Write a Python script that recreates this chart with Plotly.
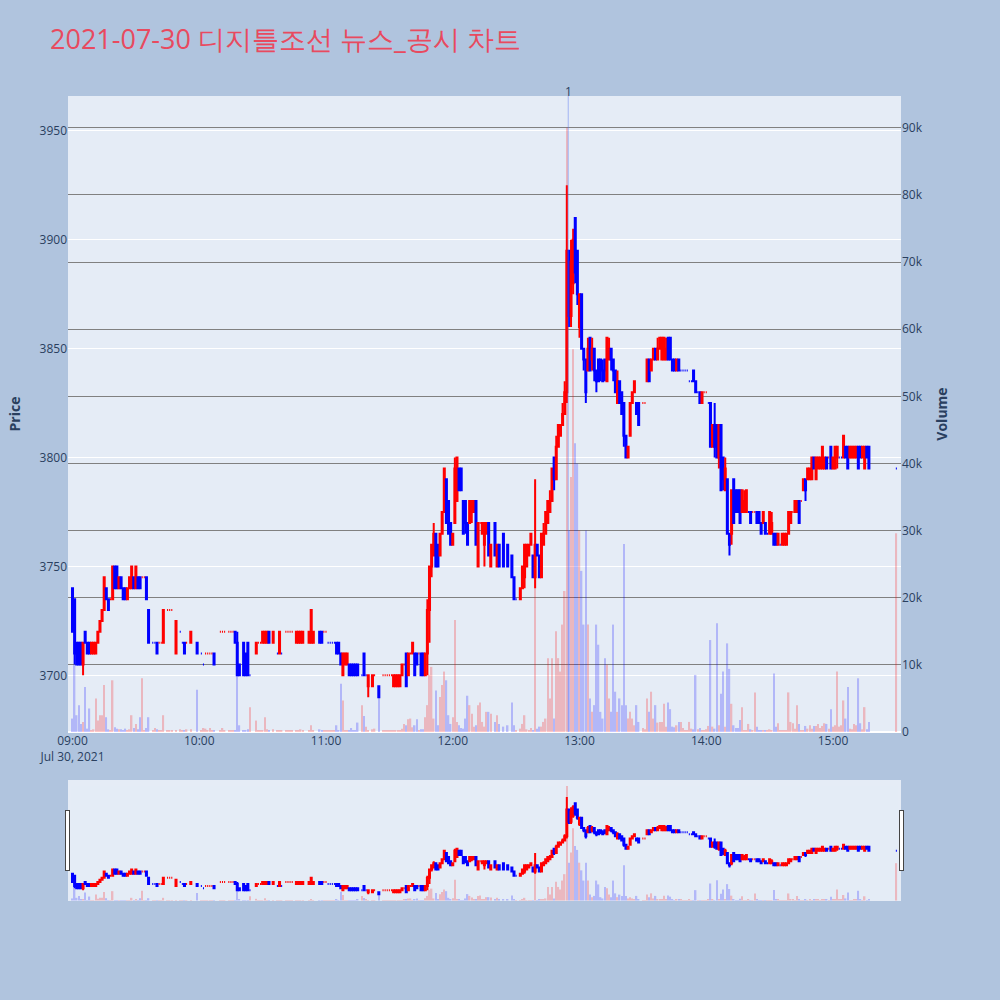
import plotly.graph_objects as go

DATE = "2021-07-30"
TITLE = "2021-07-30 디지틀조선 뉴스_공시 차트"
NEWS_TIME = "12:54:40"
NEWS_LABEL = "1"
X_RANGE = ["2021-07-30 08:57:52", "2021-07-30 15:32:12"]

# ---------------- 09:xx ----------------
t09 = ["09:00", "09:01", "09:02", "09:03", "09:04", "09:05", "09:06", "09:07", "09:08", "09:09",
       "09:10", "09:11", "09:12", "09:13", "09:14", "09:15", "09:16", "09:17", "09:18", "09:19",
       "09:20", "09:21", "09:22", "09:23", "09:24", "09:25", "09:26", "09:27", "09:28", "09:29",
       "09:30", "09:31", "09:32", "09:33", "09:34", "09:35", "09:36",
       "09:38", "09:39", "09:40", "09:41", "09:42", "09:43", "09:45", "09:46", "09:47", "09:49",
       "09:51", "09:52", "09:53", "09:54", "09:56", "09:59"]
o09 = [3740, 3735, 3715, 3715, 3715, 3705, 3720, 3715, 3715, 3710,
       3710, 3710, 3715, 3720, 3725, 3730, 3740, 3735, 3735, 3735,
       3750, 3750, 3740, 3745, 3740, 3740, 3735, 3740, 3740, 3745,
       3740, 3745, 3745, 3745, 3745, 3745, 3730,
       3715, 3715, 3715, 3715, 3715, 3715, 3730, 3730, 3730, 3710,
       3720, 3715, 3715, 3715, 3715, 3715]
h09 = [3740, 3735, 3715, 3715, 3715, 3715, 3720, 3715, 3715, 3715,
       3715, 3715, 3720, 3725, 3730, 3745, 3740, 3735, 3735, 3750,
       3750, 3750, 3745, 3745, 3740, 3740, 3740, 3745, 3750, 3745,
       3750, 3745, 3745, 3745, 3745, 3745, 3730,
       3715, 3715, 3715, 3715, 3715, 3730, 3730, 3730, 3730, 3725,
       3720, 3715, 3715, 3715, 3720, 3715]
l09 = [3720, 3705, 3705, 3705, 3705, 3700, 3715, 3710, 3710, 3710,
       3710, 3710, 3715, 3720, 3725, 3730, 3735, 3730, 3735, 3735,
       3740, 3740, 3740, 3740, 3735, 3735, 3735, 3740, 3740, 3740,
       3740, 3740, 3740, 3745, 3745, 3735, 3715,
       3715, 3715, 3710, 3715, 3715, 3715, 3730, 3730, 3730, 3710,
       3720, 3715, 3710, 3715, 3715, 3710]
c09 = [3720, 3710, 3705, 3705, 3705, 3715, 3715, 3710, 3710, 3715,
       3715, 3715, 3720, 3725, 3730, 3745, 3735, 3730, 3735, 3750,
       3740, 3740, 3745, 3740, 3735, 3735, 3740, 3745, 3750, 3740,
       3750, 3740, 3740, 3745, 3745, 3735, 3715,
       3715, 3715, 3710, 3715, 3715, 3730, 3730, 3730, 3730, 3725,
       3720, 3715, 3710, 3715, 3720, 3710]
v09 = [2000, 10000, 2500, 4000, 1200, 1500, 6700, 500, 3500, 300,
       400, 5000, 1700, 2500, 2500, 7000, 2200, 400, 300, 7700,
       700, 500, 400, 400, 300, 500, 300, 400, 2500, 600,
       1200, 400, 2200, 8000, 300, 600, 2200,
       300, 600, 400, 300, 200, 2500, 200, 300, 200, 300,
       400, 300, 300, 400, 400, 6300]

# ---------------- 10:xx ----------------
t10 = ["10:01", "10:02", "10:03", "10:04", "10:05", "10:06", "10:07",
       "10:10", "10:11", "10:12", "10:14", "10:15", "10:16", "10:17", "10:18", "10:19",
       "10:21", "10:22", "10:23", "10:24",
       "10:27", "10:28", "10:29", "10:30", "10:31", "10:32", "10:33",
       "10:35", "10:37", "10:38", "10:39",
       "10:41", "10:42", "10:43", "10:44",
       "10:46", "10:47", "10:48", "10:49",
       "10:52", "10:53", "10:54", "10:57", "10:58", "10:59"]
o10 = [3710, 3705, 3710, 3710, 3710, 3710, 3710,
       3720, 3720, 3720, 3720, 3720, 3720, 3720, 3715, 3705,
       3715, 3710, 3715, 3700,
       3710, 3715, 3715, 3715, 3715, 3715, 3720,
       3715, 3710, 3710, 3710,
       3720, 3720, 3720, 3720,
       3715, 3715, 3715, 3715,
       3715, 3715, 3715, 3720, 3720, 3720]
h10 = [3710, 3705, 3710, 3710, 3710, 3710, 3710,
       3720, 3720, 3720, 3720, 3720, 3720, 3720, 3720, 3705,
       3715, 3710, 3715, 3700,
       3715, 3715, 3715, 3720, 3720, 3720, 3720,
       3720, 3710, 3720, 3710,
       3720, 3720, 3720, 3720,
       3720, 3720, 3720, 3720,
       3720, 3730, 3720, 3720, 3720, 3720]
l10 = [3710, 3705, 3710, 3710, 3710, 3710, 3705,
       3720, 3720, 3720, 3720, 3720, 3720, 3715, 3700, 3700,
       3700, 3700, 3700, 3700,
       3710, 3715, 3715, 3715, 3715, 3715, 3715,
       3715, 3710, 3710, 3710,
       3720, 3720, 3720, 3720,
       3715, 3715, 3715, 3715,
       3715, 3715, 3715, 3715, 3715, 3720]
c10 = [3710, 3705, 3710, 3710, 3710, 3710, 3705,
       3720, 3720, 3720, 3720, 3720, 3720, 3715, 3700, 3700,
       3700, 3700, 3700, 3700,
       3715, 3715, 3715, 3720, 3720, 3720, 3715,
       3720, 3710, 3720, 3710,
       3720, 3720, 3720, 3720,
       3720, 3720, 3720, 3720,
       3720, 3730, 3720, 3715, 3715, 3720]
v10 = [300, 600, 500, 200, 600, 200, 300,
       300, 600, 200, 200, 200, 300, 300, 9000, 1000,
       300, 300, 400, 3700,
       1700, 300, 200, 300, 2200, 400, 300,
       400, 300, 300, 200,
       300, 200, 200, 300,
       300, 200, 400, 200,
       300, 1000, 300, 400, 200, 200]

# ---------------- 11:xx ----------------
t11 = ["11:00", "11:01", "11:02", "11:03", "11:04", "11:05", "11:06", "11:07", "11:08", "11:09",
       "11:10", "11:11", "11:12", "11:13", "11:14", "11:15",
       "11:17", "11:18", "11:19", "11:20",
       "11:22", "11:23", "11:25",
       "11:27", "11:28", "11:29", "11:30", "11:31", "11:32", "11:33", "11:34", "11:35", "11:36",
       "11:37", "11:38", "11:39", "11:40", "11:41", "11:42", "11:43", "11:44", "11:45", "11:46",
       "11:47", "11:48", "11:49", "11:50", "11:51", "11:52", "11:53", "11:54", "11:55", "11:56",
       "11:57", "11:58", "11:59"]
o11 = [3720, 3715, 3715, 3715, 3715, 3715, 3715, 3710, 3700, 3705,
       3705, 3705, 3705, 3705, 3705, 3705,
       3700, 3710, 3700, 3695,
       3695, 3700, 3695,
       3700, 3700, 3700, 3700, 3700, 3695, 3695, 3695, 3695, 3700,
       3705, 3710, 3700, 3710, 3710, 3710, 3710, 3710, 3710, 3710,
       3700, 3710, 3730, 3750, 3755, 3765, 3760, 3755, 3765, 3775,
       3790, 3780, 3770]
h11 = [3720, 3715, 3715, 3715, 3715, 3715, 3715, 3710, 3710, 3710,
       3710, 3705, 3705, 3705, 3705, 3705,
       3700, 3710, 3700, 3700,
       3700, 3700, 3695,
       3700, 3700, 3700, 3700, 3700, 3700, 3700, 3700, 3700, 3705,
       3705, 3710, 3710, 3710, 3715, 3710, 3710, 3710, 3710, 3710,
       3710, 3735, 3750, 3760, 3770, 3765, 3760, 3765, 3775, 3795,
       3790, 3780, 3770]
l11 = [3720, 3715, 3715, 3715, 3715, 3710, 3710, 3705, 3700, 3705,
       3705, 3700, 3700, 3700, 3700, 3700,
       3700, 3700, 3700, 3690,
       3695, 3700, 3690,
       3700, 3700, 3700, 3700, 3700, 3695, 3695, 3695, 3695, 3700,
       3705, 3695, 3700, 3710, 3710, 3700, 3705, 3710, 3700, 3700,
       3700, 3700, 3715, 3745, 3755, 3750, 3750, 3755, 3765, 3775,
       3770, 3765, 3760]
c11 = [3720, 3715, 3715, 3715, 3715, 3710, 3710, 3705, 3710, 3710,
       3710, 3700, 3700, 3700, 3700, 3700,
       3700, 3700, 3700, 3700,
       3700, 3700, 3690,
       3700, 3700, 3700, 3700, 3700, 3700, 3700, 3700, 3700, 3705,
       3705, 3695, 3710, 3710, 3715, 3700, 3705, 3710, 3700, 3700,
       3710, 3730, 3750, 3760, 3765, 3750, 3750, 3765, 3775, 3795,
       3770, 3765, 3760]
v11 = [200, 200, 300, 200, 200, 1000, 300, 7200, 4700, 300,
       300, 300, 600, 300, 300, 1400,
       4000, 2400, 800, 300,
       400, 500, 6300,
       200, 200, 300, 200, 200, 300, 200, 300, 200, 500,
       1200, 1000, 1900, 2000, 700, 1000, 1900, 300, 400, 400,
       2200, 4000, 8500, 9700, 2000, 6200, 1000, 5200, 7000, 9000,
       7700, 2500, 1200]

# ---------------- 12:xx ----------------
t12 = ["12:00", "12:01", "12:02", "12:03", "12:04", "12:05", "12:06", "12:07", "12:08", "12:09",
       "12:10", "12:11", "12:12", "12:13", "12:14", "12:15", "12:16", "12:17", "12:18",
       "12:20", "12:21", "12:22", "12:24", "12:26", "12:28", "12:29", "12:30",
       "12:32", "12:33", "12:34", "12:35", "12:36", "12:37", "12:38", "12:39", "12:40", "12:41",
       "12:42", "12:43", "12:44", "12:45", "12:46", "12:47", "12:48", "12:49", "12:50", "12:51",
       "12:52", "12:53", "12:54", "12:55", "12:56", "12:57", "12:58", "12:59"]
o12 = [3760, 3770, 3780, 3795, 3795, 3780, 3780, 3770, 3770, 3775,
       3775, 3780, 3750, 3770, 3765, 3760, 3765, 3770, 3750,
       3770, 3750, 3760, 3765, 3760, 3755, 3745, 3735,
       3735, 3740, 3745, 3750, 3755, 3760, 3755, 3745, 3760, 3755,
       3745, 3760, 3765, 3770, 3775, 3780, 3800, 3790, 3805, 3810,
       3815, 3820, 3830, 3895, 3865, 3880, 3910, 3895]
h12 = [3765, 3800, 3800, 3795, 3795, 3780, 3780, 3770, 3780, 3780,
       3780, 3780, 3770, 3770, 3770, 3770, 3770, 3770, 3760,
       3770, 3760, 3760, 3765, 3760, 3755, 3745, 3735,
       3740, 3750, 3760, 3760, 3760, 3765, 3755, 3790, 3760, 3755,
       3765, 3770, 3775, 3780, 3785, 3795, 3800, 3810, 3815, 3815,
       3825, 3835, 3925, 3895, 3900, 3905, 3910, 3895]
l12 = [3760, 3770, 3780, 3785, 3785, 3765, 3765, 3760, 3770, 3770,
       3775, 3760, 3750, 3770, 3765, 3750, 3765, 3755, 3750,
       3755, 3750, 3750, 3750, 3750, 3745, 3735, 3735,
       3735, 3740, 3740, 3750, 3755, 3760, 3745, 3740, 3755, 3745,
       3745, 3760, 3765, 3770, 3775, 3780, 3785, 3790, 3805, 3810,
       3815, 3820, 3825, 3860, 3860, 3875, 3880, 3870]
c12 = [3765, 3795, 3800, 3785, 3785, 3765, 3770, 3760, 3780, 3780,
       3780, 3760, 3770, 3770, 3770, 3770, 3770, 3755, 3760,
       3755, 3760, 3750, 3750, 3750, 3745, 3735, 3735,
       3740, 3750, 3760, 3760, 3760, 3765, 3745, 3760, 3755, 3745,
       3765, 3765, 3775, 3780, 3780, 3795, 3790, 3805, 3815, 3815,
       3820, 3830, 3895, 3865, 3890, 3900, 3885, 3875]
v12 = [2200, 16700, 1500, 1000, 600, 500, 2000, 5400, 4000, 2700,
       800, 1000, 4000, 4400, 1500, 800, 3000, 3000, 2700,
       1500, 2500, 1200, 800, 1000, 4400, 1000, 300,
       500, 1200, 2500, 400, 300, 600, 300, 37000, 500, 800,
       800, 1500, 2000, 11000, 5000, 11000, 2000, 15000, 11000, 9000,
       16000, 21000, 90000, 30000, 38000, 57000, 43000, 40000]

# ---------------- 13:xx ----------------
t13 = ["13:00", "13:01", "13:02", "13:03", "13:04", "13:05", "13:06", "13:07", "13:08", "13:09",
       "13:10", "13:11", "13:12", "13:13", "13:14", "13:15", "13:16", "13:17", "13:18", "13:19",
       "13:20", "13:21", "13:22", "13:23", "13:24", "13:25", "13:26", "13:27", "13:28",
       "13:30", "13:31", "13:32", "13:33", "13:34", "13:35", "13:36", "13:37", "13:38", "13:39",
       "13:40", "13:41", "13:42", "13:43", "13:44", "13:45", "13:46", "13:47", "13:48", "13:49",
       "13:50", "13:51", "13:52", "13:53", "13:54", "13:55", "13:56", "13:57", "13:58", "13:59"]
o13 = [3860, 3875, 3850, 3845, 3840, 3855, 3845, 3850, 3840, 3845,
       3845, 3840, 3845, 3835, 3845, 3850, 3845, 3840, 3825, 3835,
       3830, 3825, 3810, 3800, 3810, 3825, 3830, 3825, 3825,
       3825, 3825, 3835, 3845, 3840, 3845, 3850, 3845, 3850, 3845,
       3845, 3845, 3855, 3855, 3845, 3845, 3840, 3845, 3840, 3840,
       3840, 3840, 3835, 3835, 3840, 3835, 3830, 3830, 3825, 3830]
h13 = [3875, 3875, 3850, 3845, 3855, 3855, 3855, 3850, 3840, 3845,
       3845, 3845, 3845, 3855, 3855, 3850, 3845, 3840, 3840, 3835,
       3830, 3825, 3810, 3805, 3825, 3830, 3835, 3825, 3825,
       3825, 3825, 3845, 3845, 3845, 3850, 3850, 3855, 3855, 3855,
       3855, 3855, 3855, 3855, 3845, 3845, 3845, 3845, 3840, 3840,
       3840, 3840, 3835, 3835, 3840, 3835, 3830, 3830, 3830, 3830]
l13 = [3855, 3850, 3840, 3825, 3840, 3840, 3840, 3835, 3830, 3835,
       3835, 3835, 3835, 3835, 3845, 3840, 3835, 3830, 3825, 3825,
       3820, 3805, 3800, 3800, 3810, 3825, 3830, 3820, 3815,
       3825, 3825, 3835, 3835, 3840, 3845, 3845, 3845, 3850, 3845,
       3845, 3845, 3845, 3845, 3840, 3840, 3840, 3840, 3840, 3840,
       3840, 3840, 3835, 3835, 3835, 3830, 3830, 3825, 3825, 3830]
c13 = [3875, 3850, 3845, 3830, 3850, 3840, 3850, 3840, 3835, 3835,
       3840, 3835, 3840, 3855, 3850, 3845, 3840, 3830, 3835, 3825,
       3820, 3810, 3800, 3805, 3825, 3830, 3835, 3820, 3815,
       3825, 3825, 3845, 3835, 3845, 3850, 3845, 3850, 3855, 3855,
       3855, 3850, 3845, 3845, 3840, 3840, 3845, 3840, 3840, 3840,
       3840, 3840, 3835, 3835, 3835, 3830, 3830, 3825, 3830, 3830]
v13 = [30000, 24000, 16000, 30000, 16000, 5000, 3000, 4000, 16000, 13000,
       3000, 2000, 11000, 10000, 5000, 3000, 16000, 6000, 3000, 5000,
       4000, 28000, 4000, 2000, 3000, 2000, 1000, 4000, 1500,
       600, 400, 5000, 3000, 6000, 2000, 4000, 1400, 1500, 1500,
       4200, 800, 4400, 3400, 800, 700, 1000, 1500, 1500, 600,
       300, 300, 1500, 500, 400, 8500, 400, 600, 300, 200]

# ---------------- 14:xx ----------------
t14 = ["14:00", "14:01", "14:02", "14:03", "14:04", "14:05", "14:06", "14:07", "14:08", "14:09",
       "14:10", "14:11", "14:12", "14:13", "14:14", "14:15", "14:16", "14:17", "14:18", "14:19",
       "14:20", "14:21", "14:22", "14:23", "14:24", "14:25", "14:26", "14:27", "14:28", "14:29",
       "14:30", "14:31", "14:32", "14:33", "14:34", "14:35", "14:36", "14:37", "14:38", "14:39",
       "14:40", "14:41", "14:42", "14:43", "14:44", "14:45", "14:46", "14:47", "14:48", "14:49",
       "14:50", "14:51", "14:52", "14:53", "14:54", "14:55", "14:56", "14:57", "14:58", "14:59"]
o14 = [3830, 3825, 3825, 3805, 3815, 3815, 3800, 3815, 3800, 3785,
       3790, 3765, 3765, 3790, 3785, 3785, 3785, 3775, 3775, 3775,
       3775, 3775, 3775, 3775, 3775, 3775, 3770, 3770, 3770, 3765,
       3765, 3765, 3765, 3765, 3760, 3760, 3760, 3760, 3760, 3765,
       3770, 3775, 3775, 3775, 3780, 3780, 3785, 3790, 3790, 3790,
       3790, 3800, 3790, 3795, 3795, 3795, 3795, 3800, 3800, 3805]
h14 = [3830, 3825, 3825, 3815, 3825, 3815, 3815, 3815, 3800, 3800,
       3790, 3765, 3785, 3790, 3785, 3785, 3785, 3785, 3785, 3785,
       3775, 3775, 3775, 3775, 3775, 3775, 3770, 3775, 3770, 3765,
       3775, 3775, 3765, 3765, 3765, 3760, 3765, 3765, 3765, 3775,
       3775, 3775, 3780, 3780, 3780, 3780, 3790, 3790, 3795, 3795,
       3800, 3800, 3800, 3800, 3800, 3805, 3800, 3800, 3800, 3805]
l14 = [3830, 3825, 3805, 3805, 3800, 3800, 3795, 3785, 3785, 3785,
       3765, 3755, 3760, 3770, 3775, 3775, 3770, 3775, 3775, 3775,
       3775, 3770, 3775, 3775, 3770, 3770, 3765, 3770, 3765, 3765,
       3765, 3765, 3760, 3760, 3760, 3760, 3760, 3760, 3760, 3765,
       3770, 3775, 3775, 3775, 3770, 3780, 3785, 3780, 3790, 3790,
       3790, 3795, 3790, 3795, 3795, 3795, 3795, 3795, 3800, 3795]
c14 = [3830, 3825, 3805, 3815, 3805, 3800, 3815, 3785, 3790, 3795,
       3765, 3760, 3785, 3770, 3775, 3775, 3770, 3785, 3780, 3785,
       3775, 3770, 3775, 3775, 3770, 3770, 3765, 3775, 3765, 3765,
       3775, 3770, 3760, 3760, 3765, 3760, 3765, 3765, 3765, 3775,
       3775, 3775, 3780, 3780, 3770, 3780, 3790, 3785, 3795, 3795,
       3800, 3795, 3800, 3800, 3800, 3805, 3800, 3795, 3800, 3795]
v14 = [400, 900, 13700, 800, 500, 16200, 1000, 5700, 9000, 800,
       13200, 9400, 4200, 1000, 600, 600, 1800, 3700, 300, 300,
       1200, 400, 300, 5900, 800, 300, 300, 300, 300, 200,
       400, 300, 8700, 800, 1300, 200, 300, 300, 300, 5900,
       1500, 1300, 500, 4000, 1200, 300, 300, 900, 500, 1000,
       500, 900, 900, 1200, 600, 900, 1300, 1200, 500, 3400]

# ---------------- 15:xx ----------------
t15 = ["15:00", "15:01", "15:02", "15:03", "15:04", "15:05", "15:06", "15:07", "15:08", "15:09",
       "15:10", "15:11", "15:12", "15:13", "15:14", "15:15", "15:16", "15:17", "15:30"]
o15 = [3795, 3795, 3800, 3800, 3800, 3800, 3805, 3805, 3800, 3800,
       3800, 3800, 3805, 3805, 3800, 3795, 3805, 3805, 3795]
h15 = [3800, 3805, 3805, 3800, 3800, 3810, 3805, 3805, 3805, 3805,
       3805, 3805, 3805, 3805, 3805, 3805, 3805, 3805, 3795]
l15 = [3795, 3795, 3795, 3800, 3800, 3800, 3800, 3795, 3800, 3800,
       3800, 3800, 3795, 3800, 3800, 3795, 3800, 3795, 3795]
c15 = [3800, 3805, 3805, 3800, 3800, 3810, 3800, 3795, 3805, 3805,
       3805, 3805, 3795, 3800, 3805, 3805, 3800, 3795, 3795]
v15 = [800, 1000, 9000, 800, 1000, 4700, 2000, 6700, 500, 400,
       1200, 1000, 8000, 1300, 400, 3700, 400, 1500, 29600]

times = t09 + t10 + t11 + t12 + t13 + t14 + t15
opens = o09 + o10 + o11 + o12 + o13 + o14 + o15
highs = h09 + h10 + h11 + h12 + h13 + h14 + h15
lows = l09 + l10 + l11 + l12 + l13 + l14 + l15
closes = c09 + c10 + c11 + c12 + c13 + c14 + c15
volumes = v09 + v10 + v11 + v12 + v13 + v14 + v15

x = [f"{DATE} {t}" for t in times]
bar_colors = ["red" if c >= o else "blue" for o, c in zip(opens, closes)]

fig = go.Figure()
fig.add_trace(go.Candlestick(
    x=x, open=opens, high=highs, low=lows, close=closes,
    increasing=dict(line=dict(color="red"), fillcolor="red"),
    decreasing=dict(line=dict(color="blue"), fillcolor="blue"),
    showlegend=False, name="Price", yaxis="y"))
fig.add_trace(go.Bar(
    x=x, y=volumes, marker=dict(color=bar_colors, line=dict(width=0)),
    opacity=0.22, showlegend=False, name="Volume", yaxis="y2"))

news_x = f"{DATE} {NEWS_TIME}"
fig.add_shape(type="line", xref="x", yref="paper", x0=news_x, x1=news_x, y0=0, y1=1,
              line=dict(color="rgba(80,110,240,0.45)", width=1))
fig.add_annotation(x=news_x, y=1, xref="x", yref="paper", text=NEWS_LABEL,
                   showarrow=False, yanchor="bottom", yshift=-6,
                   font=dict(size=12, color="#2a3f5f"))

fig.update_layout(
    width=1000, height=1000,
    paper_bgcolor="#B0C4DE",
    plot_bgcolor="#E5ECF6",
    title=dict(text=TITLE, x=0.05, xanchor="left", y=0.96, yanchor="middle",
               font=dict(size=27, color="#E84A5F")),
    margin=dict(l=68, r=99, t=96, b=100),
    showlegend=False,
    bargap=0.3,
    xaxis=dict(domain=[0, 1], range=X_RANGE,
               rangeslider=dict(visible=True, bgcolor="#E5ECF6", thickness=0.15,
                                range=X_RANGE)),
    yaxis=dict(title=dict(text="<b>Price</b>"), range=[3674, 3966], side="left"),
    yaxis2=dict(title=dict(text="<b>Volume</b>"), overlaying="y", side="right",
                gridcolor="grey", anchor="x"),
)

fig.write_html("out.html",
               config={"displayModeBar": False},
               post_script="document.body.style.margin='0';document.body.style.overflow='hidden';")
